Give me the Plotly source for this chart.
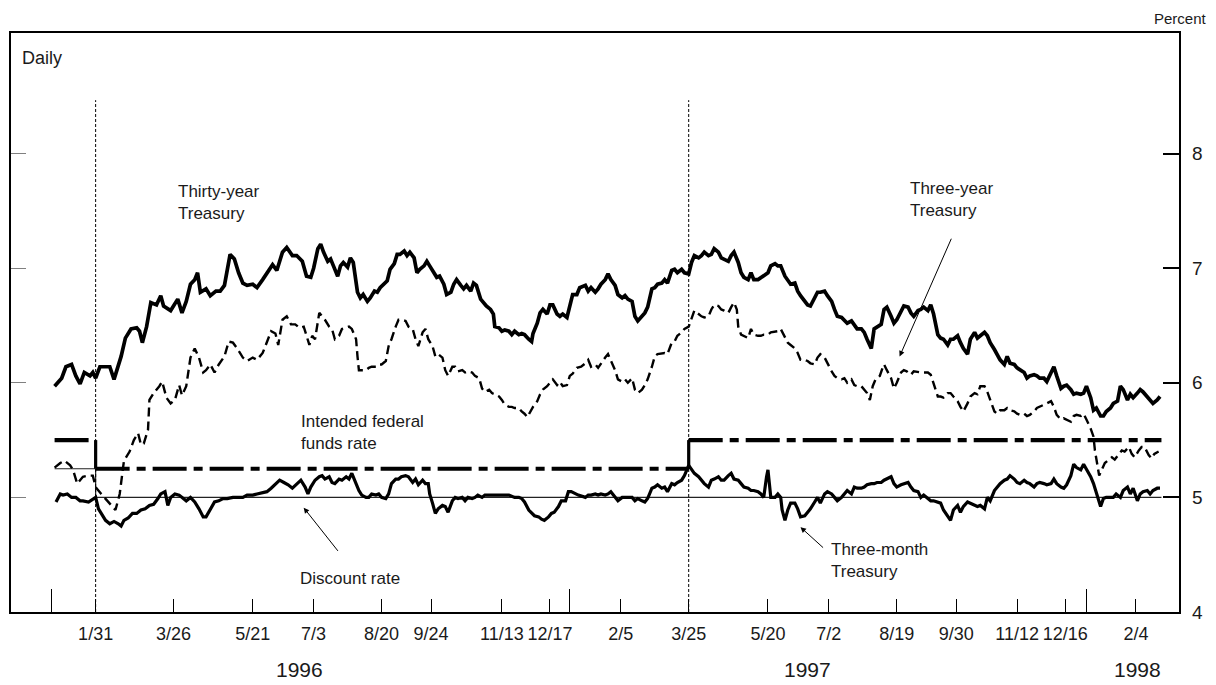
import pandas as pd
import plotly.graph_objects as go

# ---------------- data (day offset from 1996-01-01, percent) ----------------
BASE_DATE = "1996-01-01"

THIRTY_YEAR = [
    (1,5.97),(6,6.04),(9,6.14),(13,6.16),(16,6.06),(19,5.99),(22,6.09),(26,6.06),(28,6.09),(30,6.04),
    (33,6.14),(36,6.14),(40,6.14),(43,6.03),(48,6.23),(51,6.39),(55,6.47),(59,6.48),(61,6.45),(63,6.35),
    (66,6.49),(69,6.70),(73,6.68),(76,6.76),(78,6.67),(83,6.63),(88,6.73),(91,6.61),(94,6.71),(97,6.86),
    (100,6.90),(102,6.96),(104,6.79),(108,6.82),(111,6.76),(115,6.80),(118,6.80),(121,6.85),(123,6.99),(125,7.12),
    (128,7.08),(131,6.96),(134,6.87),(137,6.85),(141,6.86),(144,6.83),(148,6.90),(151,6.96),(155,7.03),(158,6.98),
    (162,7.14),(165,7.18),(169,7.11),(172,7.11),(176,7.06),(179,6.93),(182,6.92),(184,7.00),(187,7.17),(189,7.21),
    (191,7.14),(194,7.06),(196,7.08),(198,7.02),(201,6.93),(203,7.02),(205,7.05),(208,7.01),(210,7.09),(212,7.05),
    (215,6.79),(217,6.74),(219,6.77),(222,6.71),(224,6.74),(227,6.80),(229,6.79),(231,6.83),(234,6.86),(236,6.89),
    (238,6.99),(241,7.04),(243,7.12),(245,7.12),(248,7.15),(250,7.11),(252,7.14),(255,7.09),(257,6.96),(259,6.99),
    (262,7.02),(264,7.06),(266,7.02),(269,6.96),(271,6.92),(273,6.93),(276,6.86),(278,6.77),(281,6.79),(283,6.86),
    (285,6.90),(288,6.85),(290,6.82),(292,6.85),(295,6.80),(297,6.87),(299,6.85),(302,6.73),(304,6.70),(306,6.67),
    (309,6.64),(311,6.60),(312,6.49),(315,6.48),(317,6.45),(319,6.46),(322,6.45),(324,6.42),(326,6.45),(329,6.42),
    (331,6.43),(333,6.42),(336,6.38),(338,6.36),(339,6.43),(342,6.52),(344,6.61),(346,6.64),(349,6.60),(351,6.68),
    (353,6.68),(356,6.60),(358,6.58),(360,6.60),(363,6.57),(365,6.67),(367,6.77),(370,6.77),(372,6.83),(376,6.85),
    (378,6.80),(380,6.83),(383,6.79),(385,6.82),(387,6.86),(390,6.90),(392,6.95),(394,6.90),(397,6.85),(399,6.77),
    (402,6.74),(404,6.76),(406,6.73),(409,6.71),(411,6.58),(413,6.54),(416,6.58),(418,6.61),(420,6.66),(423,6.82),
    (425,6.83),(427,6.86),(430,6.87),(432,6.90),(434,6.87),(437,6.98),(439,6.99),(441,6.96),(444,6.99),(446,6.96),
    (449,6.95),(451,7.05),(453,7.11),(456,7.09),(458,7.11),(460,7.14),(463,7.11),(465,7.12),(467,7.17),(470,7.14),
    (472,7.09),(474,7.08),(477,7.06),(479,7.11),(481,7.14),(484,7.05),(486,6.96),(488,6.92),(491,6.90),(493,6.96),
    (495,6.90),(498,6.90),(500,6.92),(502,6.93),(505,6.96),(507,7.02),(510,7.04),(512,7.02),(514,7.02),(517,6.93),
    (519,6.89),(521,6.86),(524,6.87),(526,6.80),(528,6.76),(531,6.71),(533,6.68),(535,6.67),(538,6.74),(540,6.79),
    (542,6.79),(545,6.80),(547,6.76),(550,6.71),(552,6.64),(554,6.58),(557,6.57),(559,6.55),(561,6.52),(564,6.54),
    (566,6.51),(568,6.47),(571,6.47),(573,6.44),(575,6.38),(578,6.30),(580,6.47),(582,6.49),(585,6.51),(587,6.64),
    (589,6.66),(592,6.58),(594,6.52),(596,6.55),(599,6.63),(601,6.67),(604,6.66),(606,6.61),(608,6.58),(611,6.63),
    (613,6.64),(615,6.66),(618,6.63),(620,6.68),(622,6.60),(625,6.42),(627,6.39),(629,6.38),(632,6.33),(634,6.38),
    (636,6.38),(639,6.41),(641,6.35),(643,6.30),(646,6.25),(648,6.38),(651,6.44),(653,6.39),(655,6.41),(658,6.44),
    (660,6.41),(662,6.35),(665,6.29),(667,6.25),(669,6.20),(672,6.16),(674,6.23),(676,6.17),(679,6.16),(681,6.13),
    (683,6.11),(686,6.09),(688,6.04),(690,6.06),(693,6.07),(695,6.06),(697,6.04),(700,6.04),(702,6.01),(705,6.09),
    (707,6.14),(709,6.06),(712,5.95),(714,5.97),(716,5.98),(719,5.94),(721,5.90),(723,5.91),(726,5.90),(728,5.91),
    (730,5.97),(733,5.87),(735,5.76),(737,5.78),(740,5.71),(742,5.71),(744,5.75),(747,5.78),(749,5.82),(752,5.84),
    (754,5.97),(756,5.94),(759,5.85),(761,5.90),(763,5.87),(766,5.91),(768,5.94),(770,5.92),(773,5.88),(775,5.85),
    (777,5.82),(780,5.85),(782,5.88),
]

THREE_YEAR = [
    (1,5.26),(5,5.30),(8,5.32),(12,5.28),(14,5.24),(17,5.12),(21,5.18),(25,5.19),(28,5.19),(30,5.09),
    (34,5.03),(37,4.99),(41,4.93),(44,4.89),(47,5.03),(50,5.32),(54,5.40),(57,5.50),(60,5.56),(62,5.46),
    (64,5.47),(67,5.59),(68,5.85),(71,5.91),(75,5.97),(77,6.01),(80,5.87),(83,5.82),(86,5.85),(89,5.98),
    (91,5.89),(94,5.97),(97,6.22),(100,6.30),(103,6.22),(106,6.09),(108,6.11),(111,6.16),(114,6.09),(117,6.16),
    (121,6.23),(124,6.36),(127,6.35),(130,6.30),(134,6.22),(137,6.19),(141,6.22),(144,6.20),(148,6.26),(151,6.35),
    (154,6.45),(157,6.43),(159,6.33),(162,6.55),(165,6.58),(168,6.51),(171,6.51),(174,6.48),(177,6.49),(181,6.33),
    (183,6.41),(185,6.38),(188,6.61),(190,6.58),(192,6.55),(195,6.49),(197,6.47),(199,6.38),(202,6.41),(204,6.47),
    (207,6.48),(209,6.49),(211,6.47),(214,6.38),(215,6.23),(216,6.11),(218,6.11),(221,6.11),(223,6.13),(225,6.14),
    (228,6.14),(230,6.16),(232,6.16),(235,6.19),(237,6.32),(239,6.38),(242,6.49),(244,6.55),(246,6.55),(249,6.54),
    (251,6.49),(254,6.47),(256,6.38),(258,6.32),(261,6.44),(263,6.47),(265,6.38),(268,6.32),(270,6.23),(272,6.25),
    (275,6.22),(277,6.11),(279,6.06),(282,6.14),(284,6.14),(286,6.10),(289,6.11),(291,6.09),(293,6.10),(296,6.09),
    (298,6.06),(301,6.04),(303,5.95),(305,5.92),(308,5.94),(310,5.91),(312,5.90),(315,5.88),(317,5.85),(319,5.81),
    (322,5.79),(324,5.79),(326,5.78),(329,5.78),(331,5.75),(333,5.73),(335,5.70),(337,5.75),(339,5.79),(342,5.84),
    (344,5.90),(346,5.94),(349,5.97),(351,6.00),(353,6.03),(356,5.98),(358,6.01),(360,5.97),(363,5.98),(365,6.06),
    (367,6.08),(370,6.13),(373,6.14),(376,6.17),(378,6.20),(380,6.14),(383,6.16),(385,6.13),(387,6.17),(390,6.22),
    (392,6.25),(394,6.19),(397,6.11),(399,6.03),(402,6.01),(404,6.03),(406,6.00),(409,6.04),(411,5.94),(413,5.91),
    (416,5.94),(418,5.98),(420,6.03),(423,6.14),(425,6.23),(427,6.25),(430,6.26),(432,6.26),(434,6.25),(437,6.35),
    (439,6.36),(441,6.41),(444,6.44),(446,6.47),(449,6.49),(451,6.57),(453,6.63),(456,6.60),(458,6.58),(460,6.57),
    (463,6.58),(465,6.64),(467,6.68),(470,6.67),(472,6.64),(474,6.63),(477,6.61),(479,6.66),(481,6.70),(483,6.64),
    (484,6.49),(486,6.42),(488,6.41),(491,6.39),(493,6.47),(495,6.42),(498,6.41),(500,6.41),(502,6.42),(505,6.42),
    (507,6.44),(510,6.45),(512,6.45),(514,6.47),(517,6.39),(519,6.35),(521,6.33),(524,6.30),(526,6.26),(528,6.20),
    (531,6.20),(533,6.19),(535,6.17),(538,6.16),(540,6.22),(542,6.25),(545,6.22),(547,6.17),(550,6.10),(552,6.06),
    (554,6.04),(557,6.03),(559,6.04),(561,6.00),(564,6.03),(566,5.98),(568,5.97),(571,5.97),(573,5.94),(575,5.91),
    (577,5.85),(579,5.97),(581,6.03),(584,6.06),(586,6.13),(587,6.16),(589,6.11),(592,6.04),(594,5.95),(596,6.00),
    (599,6.09),(601,6.11),(603,6.10),(606,6.07),(608,6.10),(611,6.09),(613,6.09),(615,6.09),(618,6.09),(620,6.07),
    (622,6.00),(625,5.88),(627,5.88),(629,5.87),(632,5.91),(634,5.91),(636,5.88),(639,5.84),(641,5.79),(643,5.75),
    (646,5.82),(648,5.88),(651,5.91),(653,5.90),(655,5.97),(658,5.97),(660,5.92),(662,5.85),(665,5.75),(667,5.73),
    (669,5.76),(672,5.76),(674,5.78),(676,5.76),(679,5.75),(681,5.73),(683,5.72),(686,5.73),(688,5.71),(690,5.72),
    (693,5.75),(695,5.78),(697,5.79),(700,5.81),(702,5.82),(705,5.84),(707,5.79),(709,5.72),(712,5.68),(714,5.69),
    (716,5.68),(719,5.66),(721,5.71),(723,5.72),(726,5.71),(728,5.73),(730,5.68),(733,5.60),(735,5.53),(736,5.41),
    (739,5.19),(741,5.24),(743,5.30),(746,5.33),(748,5.35),(750,5.33),(753,5.38),(755,5.41),(757,5.40),(760,5.44),
    (762,5.38),(764,5.35),(767,5.41),(769,5.44),(771,5.44),(774,5.37),(776,5.34),(778,5.38),(781,5.40),
]

THREE_MONTH = [
    (2,4.96),(5,5.03),(7,5.02),(10,5.03),(13,5.00),(16,5.00),(19,4.97),(21,4.97),(25,4.96),(28,4.98),
    (30,5.00),(32,4.90),(35,4.84),(37,4.80),(40,4.77),(43,4.79),(46,4.77),(48,4.75),(50,4.80),(53,4.82),
    (56,4.86),(59,4.86),(62,4.89),(65,4.90),(68,4.93),(71,4.94),(74,4.99),(76,5.03),(79,5.05),(81,4.93),
    (83,5.00),(86,5.03),(89,5.02),(91,5.00),(94,4.97),(97,5.00),(100,4.96),(103,4.90),(106,4.83),(108,4.83),
    (111,4.90),(114,4.96),(117,4.97),(120,4.99),(123,4.99),(127,5.00),(130,5.00),(134,5.00),(137,5.02),(141,5.02),
    (144,5.03),(148,5.04),(151,5.05),(154,5.08),(157,5.12),(160,5.15),(163,5.13),(166,5.11),(169,5.08),(172,5.12),
    (175,5.15),(178,5.09),(180,5.03),(182,5.09),(185,5.15),(188,5.18),(190,5.19),(192,5.16),(195,5.18),(197,5.13),
    (199,5.12),(202,5.16),(204,5.15),(207,5.18),(209,5.16),(211,5.21),(214,5.12),(216,5.06),(218,5.02),(221,5.00),
    (223,5.00),(225,5.03),(228,5.02),(230,5.03),(232,5.00),(235,4.99),(237,5.03),(239,5.12),(242,5.16),(244,5.16),
    (246,5.18),(249,5.19),(251,5.18),(254,5.13),(256,5.16),(258,5.11),(261,5.15),(263,5.12),(265,5.12),(266,5.03),
    (268,4.95),(270,4.86),(272,4.90),(275,4.93),(277,4.92),(279,4.87),(282,4.97),(284,5.00),(286,4.99),(289,5.00),
    (291,4.97),(293,5.00),(296,4.99),(298,5.00),(300,5.02),(303,5.00),(305,5.02),(308,5.02),(312,5.02),(317,5.02),
    (322,5.02),(326,5.00),(329,5.00),(331,4.99),(333,4.96),(336,4.89),(338,4.86),(340,4.84),(343,4.83),(345,4.81),
    (347,4.80),(350,4.83),(352,4.86),(354,4.87),(357,4.92),(359,4.97),(362,4.97),(364,5.05),(366,5.05),(369,5.03),
    (371,5.02),(376,5.00),(378,5.02),(380,5.02),(383,5.03),(385,5.02),(387,5.03),(390,5.02),(392,5.03),(394,5.05),
    (397,5.00),(399,4.97),(402,5.00),(406,5.00),(409,5.00),(411,4.97),(413,4.99),(416,4.97),(418,4.96),(420,4.99),
    (423,5.08),(425,5.09),(427,5.11),(430,5.08),(432,5.09),(434,5.05),(437,5.12),(439,5.11),(441,5.13),(444,5.15),
    (446,5.19),(449,5.28),(451,5.24),(453,5.21),(456,5.18),(458,5.15),(460,5.12),(463,5.09),(465,5.15),(467,5.16),
    (470,5.18),(472,5.15),(474,5.15),(477,5.19),(479,5.21),(481,5.16),(484,5.15),(486,5.12),(488,5.09),(491,5.08),
    (493,5.06),(495,5.06),(498,5.05),(500,5.03),(502,5.00),(504,5.18),(505,5.24),(506,5.12),(507,5.00),(510,5.00),
    (512,5.03),(514,5.00),(515,4.89),(517,4.80),(519,4.89),(521,4.95),(524,4.95),(526,4.90),(528,4.83),(531,4.84),
    (533,4.87),(535,4.90),(538,4.96),(540,5.00),(542,4.95),(545,5.03),(547,5.05),(550,5.03),(552,5.00),(554,4.97),
    (557,5.00),(559,5.03),(561,5.06),(564,5.03),(566,5.09),(568,5.08),(571,5.08),(573,5.09),(575,5.11),(578,5.12),
    (580,5.12),(582,5.13),(585,5.13),(587,5.15),(589,5.16),(592,5.18),(594,5.12),(596,5.09),(599,5.11),(601,5.12),
    (604,5.13),(606,5.09),(608,5.06),(611,5.05),(613,5.00),(615,5.02),(618,4.99),(620,4.97),(622,4.97),(625,4.96),
    (627,4.95),(629,4.89),(632,4.84),(634,4.80),(636,4.89),(639,4.93),(641,4.87),(643,4.92),(646,4.96),(648,4.95),
    (651,4.93),(653,4.92),(655,4.93),(658,4.90),(660,5.00),(662,4.97),(665,5.06),(667,5.09),(669,5.12),(672,5.15),
    (674,5.16),(676,5.19),(679,5.16),(681,5.13),(683,5.12),(686,5.15),(688,5.13),(690,5.12),(693,5.09),(695,5.12),
    (697,5.13),(700,5.12),(702,5.11),(705,5.12),(707,5.16),(709,5.12),(712,5.09),(714,5.08),(716,5.11),(719,5.19),
    (721,5.29),(723,5.26),(726,5.24),(728,5.29),(730,5.25),(733,5.18),(735,5.12),(737,5.03),(740,4.92),(742,4.99),
    (744,5.00),(747,5.00),(749,5.00),(751,5.03),(754,5.00),(756,5.06),(759,5.09),(761,5.03),(763,5.08),(766,4.97),
    (768,5.03),(770,5.05),(773,5.06),(775,5.03),(777,5.06),(780,5.08),(782,5.08),
]

# step series: change days and levels
FED_STEP_DAYS = [1, 30, 449, 783]
FED_LEVELS = [5.50, 5.25, 5.50]
DISC_STEP_DAYS = [1, 30, 783]
DISC_LEVELS = [5.25, 5.00]

# FOMC meeting dates used as x ticks
TICK_DATES = ["1996-01-31", "1996-03-26", "1996-05-21", "1996-07-03", "1996-08-20",
              "1996-09-24", "1996-11-13", "1996-12-17", "1997-02-05", "1997-03-25",
              "1997-05-20", "1997-07-02", "1997-08-19", "1997-09-30", "1997-11-12",
              "1997-12-16", "1998-02-04"]
TICK_LABELS = ["1/31", "3/26", "5/21", "7/3", "8/20", "9/24", "11/13", "12/17", "2/5",
               "3/25", "5/20", "7/2", "8/19", "9/30", "11/12", "12/16", "2/4"]
YEAR_END_DATES = ["1995-12-31", "1996-12-31", "1997-12-31"]
YEAR_LABELS = ["1996", "1997", "1998"]
YEAR_LABEL_DATES = ["1996-06-23", "1997-06-17", "1998-02-05"]
POLICY_CHANGE_DATES = ["1996-01-31", "1997-03-25"]
Y_TICKS = [4, 5, 6, 7, 8]

# ---------------- helpers ----------------
base = pd.Timestamp(BASE_DATE)


def to_dates(days):
    return [None if d is None else base + pd.Timedelta(days=float(d)) for d in days]


def unzip(pairs):
    return [p[0] for p in pairs], [p[1] for p in pairs]


FONT = "Liberation Sans, Arial, Helvetica, sans-serif"
X_RANGE = to_dates([-29.8, 795.4])
Y_RANGE = [4, 9.052]

fig = go.Figure()

# discount rate (thin step line)
fig.add_trace(go.Scatter(
    x=to_dates(DISC_STEP_DAYS), y=DISC_LEVELS + [DISC_LEVELS[-1]],
    mode="lines", line=dict(color="#222222", width=1.2, shape="hv"), hoverinfo="skip"))

# intended federal funds rate (dash-dot segments + solid steps)
fx, fy, sx, sy = [], [], [], []
for i, lev in enumerate(FED_LEVELS):
    fx += [FED_STEP_DAYS[i], FED_STEP_DAYS[i + 1], None]
    fy += [lev, lev, None]
    if i > 0:
        sx += [FED_STEP_DAYS[i], FED_STEP_DAYS[i], None]
        sy += [FED_LEVELS[i - 1], lev, None]
fig.add_trace(go.Scatter(x=to_dates(fx), y=fy, mode="lines", connectgaps=False,
                         line=dict(color="black", width=4.2, dash="34px,7px,9px,7px"),
                         hoverinfo="skip"))
fig.add_trace(go.Scatter(x=to_dates(sx), y=sy, mode="lines", connectgaps=False,
                         line=dict(color="black", width=3.2), hoverinfo="skip"))

# three-month
d, v = unzip(THREE_MONTH)
fig.add_trace(go.Scatter(x=to_dates(d), y=v, mode="lines",
                         line=dict(color="black", width=3.2), name="Three-month Treasury"))
# three-year
d, v = unzip(THREE_YEAR)
fig.add_trace(go.Scatter(x=to_dates(d), y=v, mode="lines",
                         line=dict(color="black", width=2.4, dash="9px,5px"),
                         name="Three-year Treasury"))
# thirty-year
d, v = unzip(THIRTY_YEAR)
fig.add_trace(go.Scatter(x=to_dates(d), y=v, mode="lines",
                         line=dict(color="black", width=3.7), name="Thirty-year Treasury"))

# invisible trace to anchor the left tick axis
fig.add_trace(go.Scatter(x=X_RANGE, y=[None, None], yaxis="y2", mode="lines",
                         hoverinfo="skip", showlegend=False))

# dotted vertical lines at policy changes
for dt in POLICY_CHANGE_DATES:
    fig.add_shape(type="line", xref="x", yref="paper", x0=dt, x1=dt, y0=0, y1=0.884,
                  line=dict(color="black", width=1, dash="3px,2px"))

ann = []
txt = dict(font=dict(family=FONT, size=17, color="#1a1a1a"), showarrow=False,
           xanchor="left", yanchor="middle", align="left")
ann.append(dict(text="Thirty-year<br>Treasury", x="1996-03-28", y=7.57, xref="x", yref="y", **txt))
ann.append(dict(text="Three-year<br>Treasury", x="1997-08-27", y=7.60, xref="x", yref="y", **txt))
ann.append(dict(text="Intended federal<br>funds rate", x="1996-06-23", y=5.57, xref="x", yref="y", **txt))
ann.append(dict(text="Discount rate", x="1996-06-22", y=4.29, xref="x", yref="y", **txt))
ann.append(dict(text="Three-month<br>Treasury", x="1997-07-02", y=4.45, xref="x", yref="y", **txt))

arrow = dict(text="", showarrow=True, arrowhead=2, arrowsize=1.1, arrowwidth=1,
             arrowcolor="black", xref="x", yref="y", axref="x", ayref="y",
             standoff=0, startstandoff=0)
ann.append(dict(x="1997-08-21", y=6.23, ax="1997-09-27", ay=7.27, **arrow))
ann.append(dict(x="1996-06-26", y=4.91, ax="1996-07-21", ay=4.52, **arrow))
ann.append(dict(x="1997-06-12", y=4.74, ax="1997-06-29", ay=4.55, **arrow))

for lab, dt in zip(YEAR_LABELS, YEAR_LABEL_DATES):
    ann.append(dict(text=lab, x=dt, y=-0.1, xref="x", yref="paper", showarrow=False,
                    xanchor="center", yanchor="middle",
                    font=dict(family=FONT, size=21, color="#1a1a1a")))

ann.append(dict(text="Daily", x=0.008, y=0.957, xref="paper", yref="paper", showarrow=False,
                xanchor="left", yanchor="middle", font=dict(family=FONT, size=18, color="#1a1a1a")))
ann.append(dict(text="Percent", x=1.026, y=1.043, xref="paper", yref="paper", showarrow=False,
                xanchor="right", yanchor="top", font=dict(family=FONT, size=15, color="#1a1a1a")))

# page body adds an 8px offset: keep the figure inside the visible window
fig.update_layout(
    width=1200, height=677,
    margin=dict(l=1, r=29, t=25, b=73),
    paper_bgcolor="white", plot_bgcolor="white",
    showlegend=False,
    annotations=ann,
    xaxis=dict(
        type="date", range=X_RANGE,
        tickmode="array", tickvals=TICK_DATES, ticktext=TICK_LABELS,
        ticks="inside", ticklen=13, tickwidth=1.2, tickcolor="black",
        showline=True, linecolor="black", linewidth=2.2, mirror=True,
        showgrid=False, zeroline=False, tickangle=0,
        tickfont=dict(family=FONT, size=18, color="#1a1a1a"),
        ticklabelstandoff=4,
        minor=dict(tickmode="array", tickvals=YEAR_END_DATES, ticks="inside",
                   ticklen=23, tickwidth=1.2, tickcolor="black", showgrid=False),
    ),
    yaxis=dict(
        range=Y_RANGE, side="right",
        tickmode="array", tickvals=Y_TICKS,
        ticks="inside", ticklen=16, tickwidth=2, tickcolor="black",
        showline=True, linecolor="black", linewidth=2.2, mirror=True,
        showgrid=False, zeroline=False,
        tickfont=dict(family=FONT, size=19, color="#1a1a1a"),
        ticklabelstandoff=7,
    ),
    yaxis2=dict(
        range=Y_RANGE, overlaying="y", side="left",
        tickmode="array", tickvals=Y_TICKS[1:],
        ticks="inside", ticklen=15, tickwidth=1, tickcolor="#808080",
        showticklabels=False, showline=False, showgrid=False, zeroline=False,
    ),
)

fig.write_html("out.html")
